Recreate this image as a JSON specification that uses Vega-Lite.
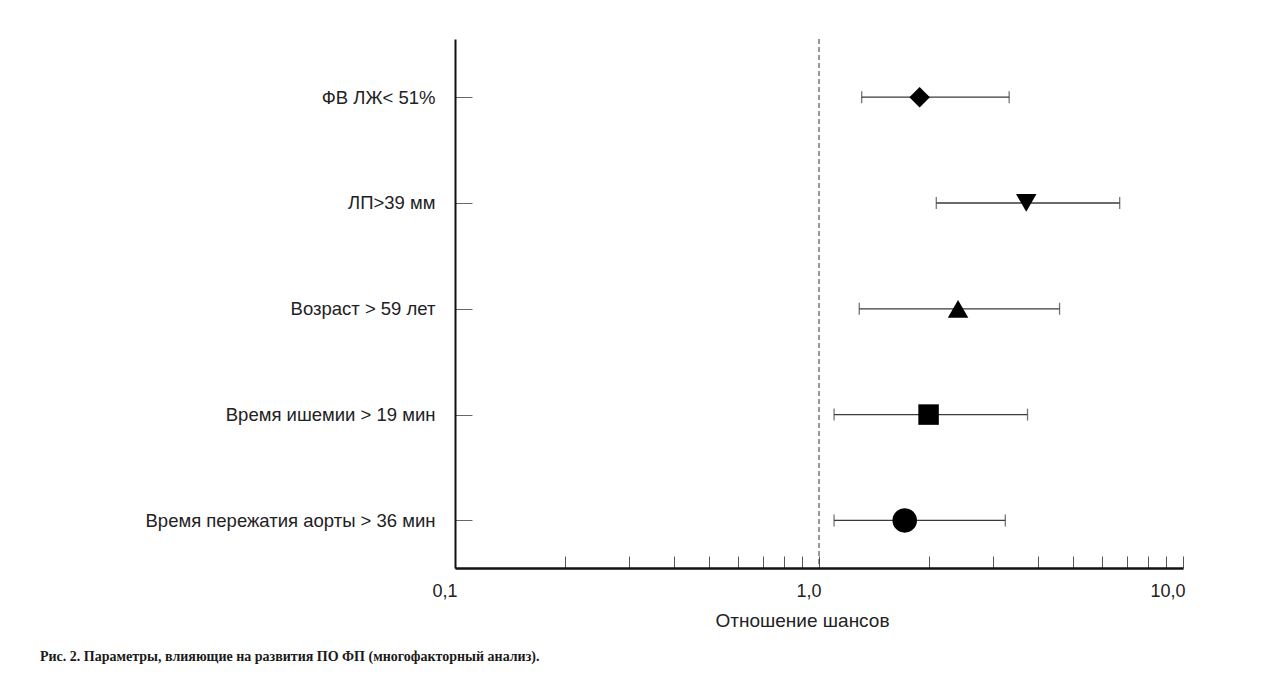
{
  "$schema": "https://vega.github.io/schema/vega-lite/v6.json",
  "width": 728,
  "height": 529,
  "autosize": {"type": "none"},
  "padding": {"left": 455, "top": 39, "right": 97, "bottom": 128},
  "background": "white",
  "config": {"view": {"stroke": null}, "font": "Liberation Sans"},
  "title": {
    "text": "Рис. 2. Параметры, влияющие на развития ПО ФП (многофакторный анализ).",
    "orient": "bottom",
    "anchor": "start",
    "frame": "group",
    "dx": -415,
    "offset": 20,
    "font": "Liberation Serif",
    "fontSize": 14,
    "fontWeight": "bold",
    "color": "#1a1a1a"
  },
  "data": {
    "values": [
      {"factor": "ФВ ЛЖ< 51%", "or": 1.89, "lo": 1.31, "hi": 3.33},
      {"factor": "ЛП>39 мм", "or": 3.71, "lo": 2.10, "hi": 6.70},
      {"factor": "Возраст > 59 лет", "or": 2.41, "lo": 1.29, "hi": 4.58},
      {"factor": "Время ишемии > 19 мин", "or": 2.00, "lo": 1.10, "hi": 3.74},
      {"factor": "Время пережатия аорты > 36 мин", "or": 1.72, "lo": 1.10, "hi": 3.25}
    ]
  },
  "layer": [
    {
      "mark": {"type": "rule", "color": "#3a3a3a", "strokeWidth": 1.3},
      "encoding": {
        "x": {
          "field": "lo", "type": "quantitative", "title": "Отношение шансов",
          "scale": {"type": "log", "domain": [0.1, 10], "nice": false},
          "axis": {
            "values": [0.1, 0.2, 0.3, 0.4, 0.5, 0.6, 0.7, 0.8, 0.9, 1, 2, 3, 4, 5, 6, 7, 8, 9, 10],
            "labelExpr": "datum.value == 0.1 ? '0,1' : datum.value == 1 ? '1,0' : datum.value == 10 ? '10,0' : ''",
            "grid": false,
            "tickSize": -12,
            "tickColor": "#555",
            "tickWidth": 1,
            "domainColor": "#111",
            "domainWidth": 2.5,
            "labelPadding": 26,
            "labelFontSize": 18,
            "labelColor": "#222",
            "labelAlign": "right",
            "labelOffset": 2,
            "labelFont": "Liberation Sans",
            "labelOverlap": false,
            "labelFlush": false,
            "labelBound": false,
            "titleFont": "Liberation Sans",
            "titleFontSize": 19,
            "titleFontWeight": "normal",
            "titleColor": "#222",
            "titlePadding": 11,
            "titleX": 347,
            "titleAlign": "center"
          }
        },
        "x2": {"field": "hi"},
        "y": {
          "field": "factor", "type": "nominal", "sort": null, "title": null,
          "scale": {"type": "point", "padding": 0.5, "align": 0.55},
          "axis": {
            "grid": false,
            "domainColor": "#111",
            "domainWidth": 2,
            "tickSize": -17,
            "tickColor": "#666",
            "tickWidth": 1,
            "labelPadding": 37,
            "labelFontSize": 18.5,
            "labelLimit": 500,
            "labelColor": "#222",
            "labelFont": "Liberation Sans"
          }
        }
      }
    },
    {
      "mark": {"type": "tick", "color": "#3a3a3a", "thickness": 1.3, "size": 12},
      "encoding": {
        "x": {"field": "lo", "type": "quantitative", "title": "Отношение шансов"},
        "y": {"field": "factor", "type": "nominal", "sort": null, "title": null}
      }
    },
    {
      "mark": {"type": "tick", "color": "#3a3a3a", "thickness": 1.3, "size": 12},
      "encoding": {
        "x": {"field": "hi", "type": "quantitative", "title": "Отношение шансов"},
        "y": {"field": "factor", "type": "nominal", "sort": null, "title": null}
      }
    },
    {
      "data": {"values": [{"ref": 1}]},
      "mark": {"type": "rule", "color": "#333", "strokeWidth": 1, "strokeDash": [5, 3]},
      "encoding": {
        "x": {"field": "ref", "type": "quantitative", "title": "Отношение шансов"}
      }
    },
    {
      "mark": {"type": "point", "filled": true, "color": "#000", "opacity": 1},
      "encoding": {
        "x": {"field": "or", "type": "quantitative", "title": "Отношение шансов"},
        "y": {"field": "factor", "type": "nominal", "sort": null, "title": null},
        "shape": {
          "field": "factor", "type": "nominal", "legend": null,
          "scale": {
            "domain": ["ФВ ЛЖ< 51%", "ЛП>39 мм", "Возраст > 59 лет", "Время ишемии > 19 мин", "Время пережатия аорты > 36 мин"],
            "range": ["diamond", "triangle-down", "triangle-up", "square", "circle"]
          }
        },
        "size": {
          "condition": {"test": "datum.factor == 'Время пережатия аорты > 36 мин'", "value": 600},
          "value": 420
        }
      }
    }
  ]
}
